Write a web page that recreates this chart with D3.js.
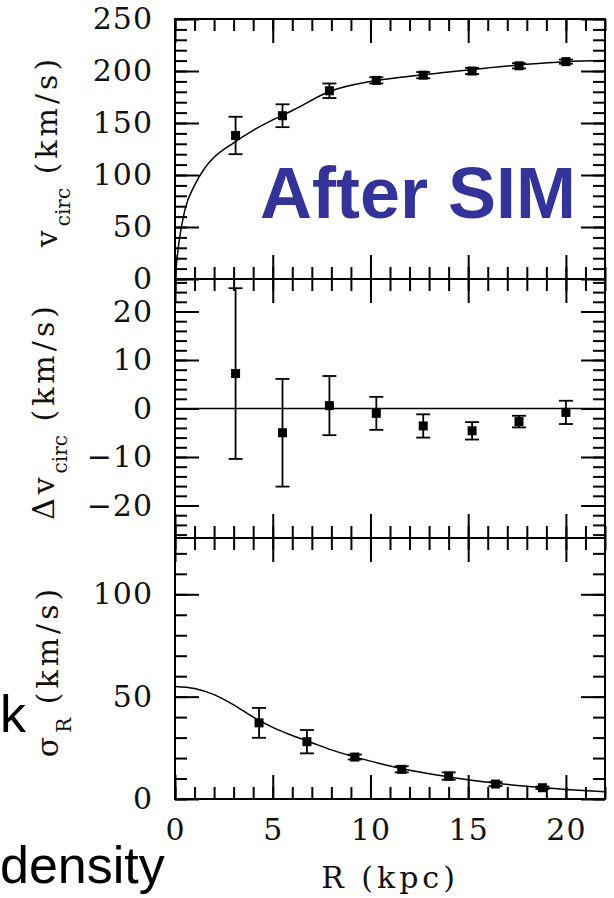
<!DOCTYPE html>
<html>
<head>
<meta http-equiv="Content-Type" content="text/html;charset=utf-8"/>
<script src="https://d3js.org/d3.v7.min.js"></script>
<style type="text/css">
body {
  margin: 0;
  background: #fff;
}
.frame {
  fill: none;
  stroke: #000;
  stroke-width: 2px;
}
.ticks line {
  stroke: #000;
  stroke-width: 2px;
}
.ticks path, .labels path, .labels line {
  display: none;
}
.labels text {
  font-family: "DejaVu Serif", serif;
  font-size: 30px;
  fill: #111;
  letter-spacing: 1px;
}
.title {
  font-family: "DejaVu Serif", serif;
  font-size: 30px;
  fill: #111;
  letter-spacing: 4px;
}
.model {
  fill: none;
  stroke: #000;
  stroke-width: 1.5px;
}
.err {
  stroke: #000;
  stroke-width: 1.8px;
}
.pt {
  fill: #000;
}
.slide {
  font-family: "Liberation Sans", Arial, sans-serif;
  font-size: 52px;
  fill: #000;
}
.banner {
  font-family: "Liberation Sans", Arial, sans-serif;
  font-weight: bold;
  font-size: 72px;
  fill: #333399;
}
</style>
</head>

<body>
<script>

var R_BIN = [3.1, 5.5, 7.9, 10.3, 12.7, 15.2, 17.6, 20.0];
var VCIRC = [138, 157, 181, 191, 196, 200, 205, 209];
var VCIRC_ERR = [18, 11, 7, 3, 3, 3, 2.5, 2];

var DVCIRC = [7.2, -5.0, 0.6, -1.0, -3.6, -4.6, -2.7, -0.8];
var DVCIRC_ERR = [17.6, 11.1, 6.1, 3.4, 2.4, 1.8, 1.2, 2.4];

var R_SIG = [4.3, 6.75, 9.2, 11.6, 14.0, 16.4, 18.8];
var SIGMA = [37.2, 28, 20.5, 14.5, 11.2, 7.3, 5.5];
var SIGMA_ERR = [7.3, 5.7, 1.2, 1.5, 1.8, 1.0, 0.6];

// model curves
var R_VMODEL = [0, 0.2, 0.5, 1, 1.5, 2, 3, 4, 5, 6, 8, 10, 12, 14, 16, 18, 20, 22];
var VMODEL = [0, 35, 66, 90, 106, 117, 131, 143, 153, 162, 181, 190, 195, 199, 203, 206.5, 209, 210];

var R_SMODEL = [0, 1, 2, 3, 4, 5, 6, 7, 8, 10, 12, 14, 16, 18, 20, 22];
var SMODEL = [55, 54, 51, 46, 40, 35, 31, 27.5, 24, 18.5, 14, 10.8, 8.2, 6.2, 4.7, 3.5];

var R_ZERO = [0, 22];
var DV_ZERO = [0, 0];

// tick labels
var X_TICKS = [0, 5, 10, 15, 20];
var VC_TICKS = [0, 50, 100, 150, 200, 250];
var DV_TICKS = [-20, -10, 0, 10, 20];
var SIG_TICKS = [0, 50, 100];


var width = 614, height = 898;
var left = 175, right = 605;

var x = d3.scaleLinear().domain([0, 22]).range([left, right]);

var svg = d3.select("body").append("svg")
    .attr("width", width)
    .attr("height", height);

var xMinor = d3.range(0, 22.01, 1);
var xMajor = d3.range(0, 22.01, 5);

function tickSet(g, axis, values, len, tr)
{
  g.append("g")
    .attr("class", "ticks")
    .attr("transform", tr)
    .call(axis.tickValues(values).tickSize(len).tickFormat(""));
}

function zipRows(xs, ys, es)
{
  return xs.map(function(r, i) { return {r: r, v: ys[i], e: es ? es[i] : 0}; });
}

function drawPanel(p)
{
  var y = d3.scaleLinear().domain(p.domain).range([p.bottom, p.top]);
  var g = svg.append("g");

  var lo = Math.ceil(p.domain[0] / p.minor) * p.minor;
  var yMinor = d3.range(lo, p.domain[1] + 0.01, p.minor);
  var yMajor = yMinor.filter(function(v) { return Math.abs(v % p.major) < 1e-6; });

  // inward ticks on all four sides
  tickSet(g, d3.axisRight(y), yMinor, 12, "translate(" + left + ",0)");
  tickSet(g, d3.axisRight(y), yMajor, 24, "translate(" + left + ",0)");
  tickSet(g, d3.axisLeft(y), yMinor, 12, "translate(" + right + ",0)");
  tickSet(g, d3.axisLeft(y), yMajor, 24, "translate(" + right + ",0)");
  tickSet(g, d3.axisBottom(x), xMinor, 12, "translate(0," + p.top + ")");
  tickSet(g, d3.axisBottom(x), xMajor, 24, "translate(0," + p.top + ")");
  tickSet(g, d3.axisTop(x), xMinor, 12, "translate(0," + p.bottom + ")");
  tickSet(g, d3.axisTop(x), xMajor, 24, "translate(0," + p.bottom + ")");

  g.append("rect")
    .attr("class", "frame")
    .attr("x", left)
    .attr("y", p.top)
    .attr("width", right - left)
    .attr("height", p.bottom - p.top);

  g.append("g")
    .attr("class", "labels")
    .attr("transform", "translate(" + left + ",0)")
    .call(d3.axisLeft(y).tickValues(p.labels).tickSize(0).tickPadding(22));

  var line = d3.line()
    .x(function(d) { return x(d.r); })
    .y(function(d) { return y(d.v); })
    .curve(d3.curveMonotoneX);

  g.append("path")
    .datum(zipRows(p.modelR, p.modelV))
    .attr("class", "model")
    .attr("d", line);

  var pts = g.selectAll(".pt-g")
    .data(zipRows(p.r, p.v, p.e))
    .enter().append("g");

  pts.append("line")
    .attr("class", "err")
    .attr("x1", function(d) { return x(d.r); })
    .attr("x2", function(d) { return x(d.r); })
    .attr("y1", function(d) { return y(d.v - d.e); })
    .attr("y2", function(d) { return y(d.v + d.e); });

  [-1, 1].forEach(function(s) {
    pts.append("line")
      .attr("class", "err")
      .attr("x1", function(d) { return x(d.r) - 7; })
      .attr("x2", function(d) { return x(d.r) + 7; })
      .attr("y1", function(d) { return y(d.v + s * d.e); })
      .attr("y2", function(d) { return y(d.v + s * d.e); });
  });

  pts.append("rect")
    .attr("class", "pt")
    .attr("x", function(d) { return x(d.r) - 4.5; })
    .attr("y", function(d) { return y(d.v) - 4.5; })
    .attr("width", 9)
    .attr("height", 9);

  // rotated y title with subscript
  var t = svg.append("text")
    .attr("class", "title")
    .attr("text-anchor", "middle")
    .attr("transform", "translate(" + p.titleX + "," + p.titleY + ") rotate(-90)");
  t.append("tspan").text(p.sym);
  t.append("tspan").attr("dy", 13).style("font-size", "20px").style("letter-spacing", "0px").text(p.sub);
  t.append("tspan").attr("dy", -13).text(" (km/s)");

  return y;
}

drawPanel({top: 19, bottom: 279, domain: [0, 250], minor: 10, major: 50, labels: VC_TICKS,
  r: R_BIN, v: VCIRC, e: VCIRC_ERR, modelR: R_VMODEL, modelV: VMODEL,
  sym: "v", sub: "circ", titleX: 57, titleY: 151});

drawPanel({top: 279, bottom: 538, domain: [-26.7, 26.7], minor: 2, major: 10, labels: DV_TICKS,
  r: R_BIN, v: DVCIRC, e: DVCIRC_ERR, modelR: R_ZERO, modelV: DV_ZERO,
  sym: "\u0394v", sub: "circ", titleX: 54, titleY: 411});

drawPanel({top: 538, bottom: 799, domain: [0, 127.5], minor: 10, major: 50, labels: SIG_TICKS,
  r: R_SIG, v: SIGMA, e: SIGMA_ERR, modelR: R_SMODEL, modelV: SMODEL,
  sym: "\u03c3", sub: "R", titleX: 58, titleY: 671});

// x labels only under the bottom panel
svg.append("g")
  .attr("class", "labels")
  .attr("transform", "translate(0,799)")
  .call(d3.axisBottom(x).tickValues(X_TICKS).tickSize(0).tickPadding(20));

svg.append("text")
  .attr("class", "title")
  .attr("text-anchor", "middle")
  .attr("x", 390)
  .attr("y", 888)
  .text("R (kpc)");

svg.append("text")
  .attr("class", "banner")
  .attr("x", 260)
  .attr("y", 218)
  .text("After SIM");

// bits of slide text at the left edge
svg.append("text").attr("class", "slide").attr("x", 0).attr("y", 732).text("k");
svg.append("text").attr("class", "slide").attr("x", 0).attr("y", 883).text("density");

</script>
</body>
</html>
